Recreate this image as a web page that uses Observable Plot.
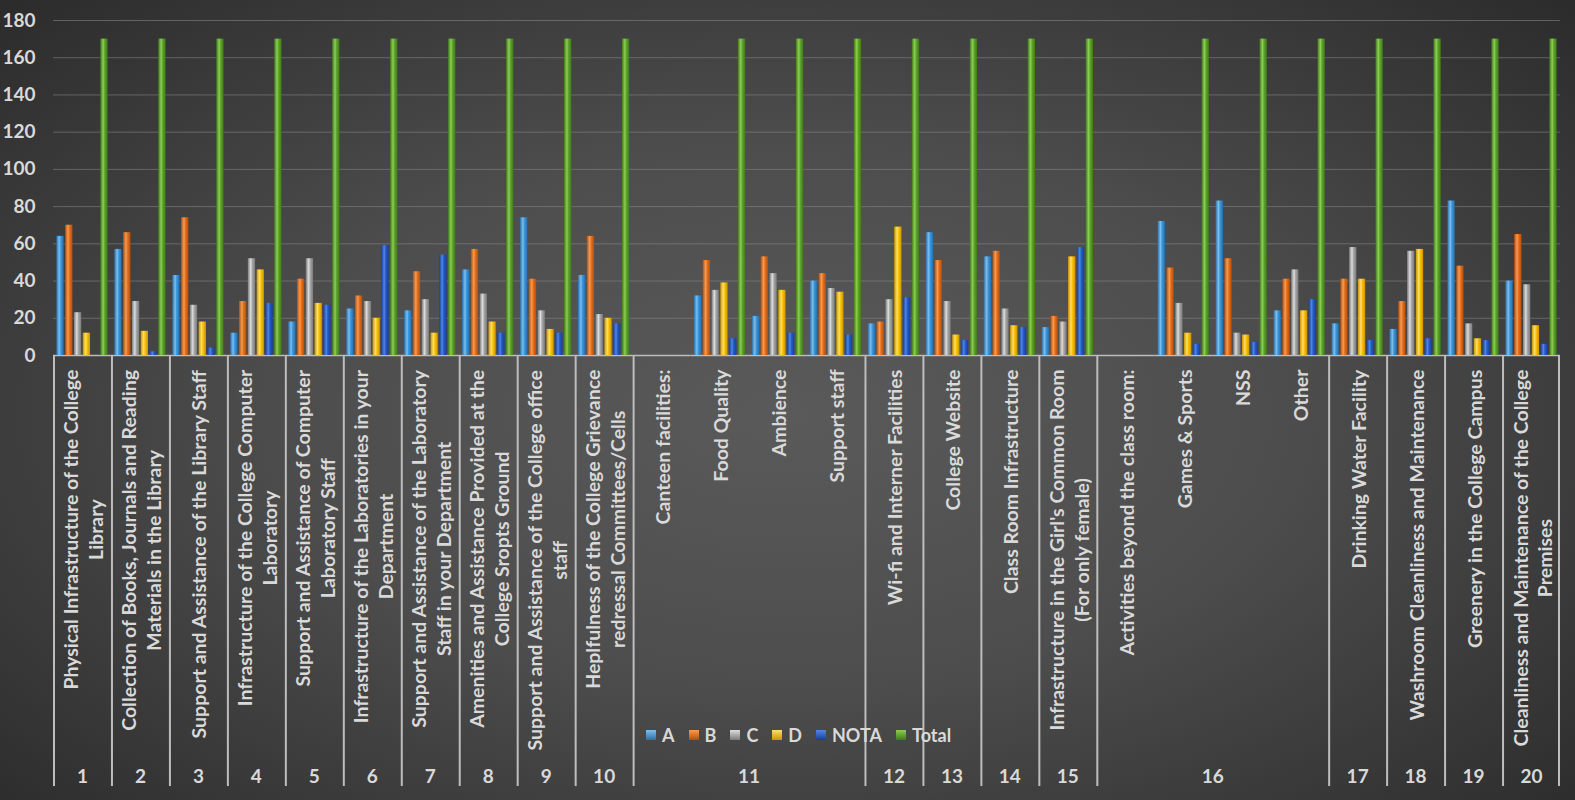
<!DOCTYPE html>
<html><head><meta charset="utf-8">
<script src="https://cdn.jsdelivr.net/npm/d3@7"></script>
<script src="https://cdn.jsdelivr.net/npm/@observablehq/plot@0.6"></script>
<style>
html,body{margin:0;padding:0;width:1575px;height:800px;overflow:hidden;}
body{background:radial-gradient(ellipse 70% 75% at 50% 52%, #5a5a5a 0%, #4d4d4d 45%, #2b2b2b 100%);font-family:Lato,sans-serif;}
#chart{position:absolute;left:0;top:0;width:1575px;height:800px;}
#chart svg{display:block;width:1575px !important;height:800px !important;max-width:none !important;}
#legend{position:absolute;left:646px;top:724px;display:flex;align-items:center;color:#d9d9d9;font:bold 18px Lato,sans-serif;}
#legend .item{display:flex;align-items:center;margin-right:14px;}
#legend .sw{width:10px;height:10px;margin-right:6px;}
</style></head>
<body><div id="chart"></div><div id="legend"></div>
<script>
const categories = [
  "Physical Infrastructure of the College\nLibrary",
  "Collection of Books, Journals and Reading\nMaterials in the Library",
  "Support and Assistance of the Library Staff",
  "Infrastructure of the College Computer\nLaboratory",
  "Support and Assistance of Computer\nLaboratory Staff",
  "Infrastructure of the Laboratories in your\nDepartment",
  "Support and Assistance of the Laboratory\nStaff in your Department",
  "Amenities and Assistance Provided at the\nCollege Sropts Ground",
  "Support and Assistance of the College office\nstaff",
  "Heplfulness of the College Grievance\nredressal Committees/Cells",
  "Canteen facilities:",
  "Food Quality",
  "Ambience",
  "Support staff",
  "Wi-fi and Interner Facilities",
  "College Website",
  "Class Room Infrastructure",
  "Infrastructure in the Girl's Common Room\n(For only female)",
  "Activities beyond the class room:",
  "Games & Sports",
  "NSS",
  "Other",
  "Drinking Water Facility",
  "Washroom Cleanliness and Maintenance",
  "Greenery in the College Campus",
  "Cleanliness and Maintenance of the College\nPremises"
];
const groupNo = [1,2,3,4,5,6,7,8,9,10,11,11,11,11,12,13,14,15,16,16,16,16,17,18,19,20];

const seriesNames = ["A","B","C","D","NOTA","Total"];
const A     = [64,57,43,12,18,25,24,46,74,43,null,32,21,40,17,66,53,15,null,72,83,24,17,14,83,40];
const B     = [70,66,74,29,41,32,45,57,41,64,null,51,53,44,18,51,56,21,null,47,52,41,41,29,48,65];
const C     = [23,29,27,52,52,29,30,33,24,22,null,35,44,36,30,29,25,18,null,28,12,46,58,56,17,38];
const D     = [12,13,18,46,28,20,12,18,14,20,null,39,35,34,69,11,16,53,null,12,11,24,41,57,9,16];
const NOTA  = [0,2,4,28,27,59,54,12,12,17,null,9,12,11,31,8,15,58,null,6,7,30,8,9,8,6];
const Total = [170,170,170,170,170,170,170,170,170,170,null,170,170,170,170,170,170,170,null,170,170,170,170,170,170,170];
const yTicks = [0,20,40,60,80,100,120,140,160,180];

const seriesBase  = ["#3d97dc","#e8701c","#a8a8a8","#fcc10c","#245cc8","#5fa52c"];
const seriesLight = ["#7cc0f0","#f79c55","#dedede","#ffe066","#4f86e6","#8ccf55"];
const seriesDark  = ["#2a6fa8","#b14f0c","#7a7a7a","#c99400","#173f96","#3f7a1a"];

const values = {A, B, C, D, NOTA, Total};
const rows = [];
categories.forEach((cat, i) => {
  seriesNames.forEach(s => {
    const v = values[s][i];
    if (v != null) rows.push({cat, series: s, value: v});
  });
});

const W = 1575, H = 800, ML = 53, MR = 15, MT = 20, MB = 445;
const facetW = (W - ML - MR) / categories.length;
const sepLen = 431;

const groupInfo = [];
groupNo.forEach((g, i) => {
  const last = groupInfo[groupInfo.length - 1];
  if (last && last.g === g) last.n++;
  else groupInfo.push({g, start: i, n: 1});
});

const labelFont = 19.5;
const ctx = document.createElement("canvas").getContext("2d");
ctx.font = `bold ${labelFont}px Lato`;

const labelMarks = categories.map(c => {
  const lines = c.split("\n");
  const len = d3.max(lines, l => ctx.measureText(l).width);
  return Plot.text([c], {
    fx: d => d, text: d => d, frameAnchor: "bottom", rotate: -90,
    textAnchor: "middle", lineAnchor: "middle", lineHeight: 1.28,
    dy: 14 + len / 2, dx: lines.length > 1 ? 0.5 : 0,
    fontSize: labelFont, fontWeight: "bold", fill: "#d9d9d9"
  });
});

const groupMarks = groupInfo.map(gi => {
  const k = Math.floor((gi.n - 1) / 2);
  const off = (gi.n / 2 - k - 0.5) * facetW;
  return Plot.text([gi], {
    fx: d => categories[d.start + k], text: d => String(d.g),
    frameAnchor: "bottom", lineAnchor: "middle", dy: 421, dx: off, fontSize: 19, fontWeight: "bold", fill: "#d9d9d9"
  });
});

const sepColor = "#bdbdbd";
const chart = Plot.plot({
  width: W, height: H,
  marginLeft: ML, marginRight: MR, marginTop: MT, marginBottom: MB,
  style: {background: "transparent", color: "#d9d9d9", fontFamily: "Lato, sans-serif", fontSize: "19px", fontWeight: "bold", overflow: "visible"},
  fx: {domain: categories, padding: 0, round: false, axis: null},
  x: {domain: seriesNames, paddingInner: 0.17, paddingOuter: 0.38, round: false, axis: null},
  y: {domain: [0, 180], axis: null},
  color: {domain: seriesNames, range: seriesNames.map(s => `url(#grad-${s})`)},
  marks: [
    Plot.gridY(yTicks.filter(t => t > 0), {stroke: "#8a8a8a", strokeOpacity: 0.55, strokeWidth: 1}),
    Plot.axisY(yTicks, {label: null, tickSize: 0, tickPadding: 18, fontSize: 19, fontWeight: "bold", fill: "#d9d9d9"}),
    Plot.ruleY([0], {stroke: sepColor, strokeWidth: 1.5}),
    Plot.barY(groupInfo, {fx: d => categories[d.start], y1: 0, y2: 0, insetBottom: -sepLen, insetRight: facetW - 2, fill: sepColor}),
    Plot.barY([categories[categories.length - 1]], {fx: d => d, y1: 0, y2: 0, insetBottom: -sepLen, insetLeft: facetW - 2, fill: sepColor}),
    Plot.barY(rows, {fx: "cat", x: "series", y: "value", fill: "series"}),
    ...labelMarks,
    ...groupMarks
  ]
});

const defs = d3.select(chart).insert("defs", ":first-child");
seriesNames.forEach((s, i) => {
  const g = defs.append("linearGradient").attr("id", `grad-${s}`).attr("x1", 0).attr("x2", 1).attr("y1", 0).attr("y2", 0);
  g.append("stop").attr("offset", "0%").attr("stop-color", seriesDark[i]);
  g.append("stop").attr("offset", "40%").attr("stop-color", seriesLight[i]);
  g.append("stop").attr("offset", "60%").attr("stop-color", seriesBase[i]);
  g.append("stop").attr("offset", "100%").attr("stop-color", seriesDark[i]);
});
document.getElementById("chart").appendChild(chart);

const legend = d3.select("#legend");
seriesNames.forEach((s, i) => {
  const it = legend.append("div").attr("class", "item");
  it.append("div").attr("class", "sw").style("background", `linear-gradient(to bottom, ${seriesLight[i]}, ${seriesDark[i]})`);
  it.append("span").text(s);
});
</script>
</body></html>
